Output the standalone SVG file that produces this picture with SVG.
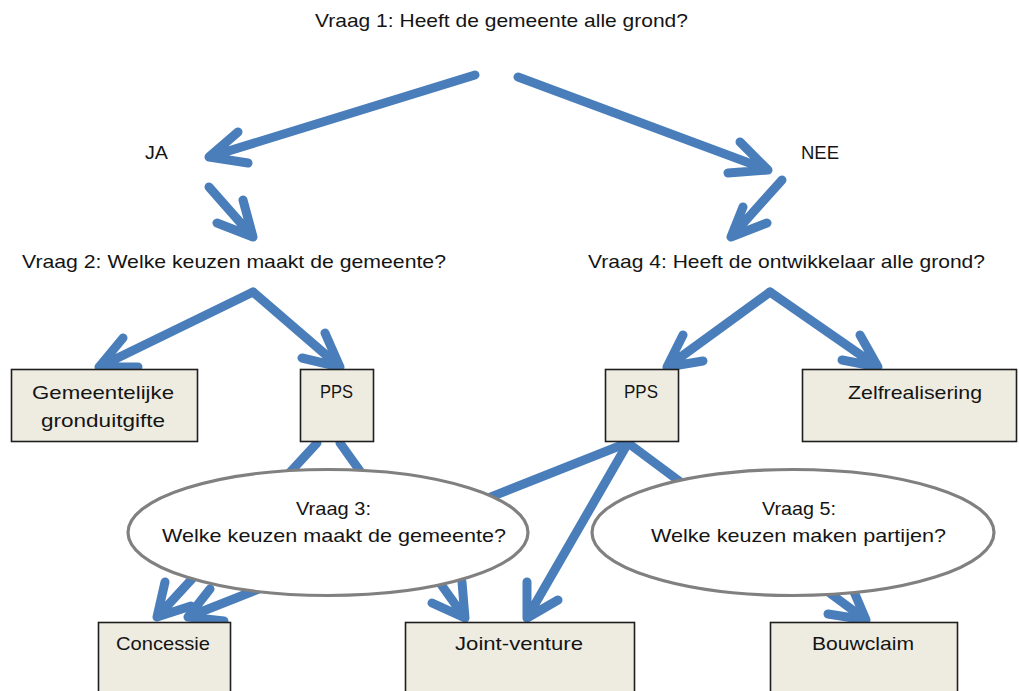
<svg xmlns="http://www.w3.org/2000/svg" width="1019" height="691" viewBox="0 0 1019 691">
  <defs>
    <style>
      .lbl { font-family: "Liberation Sans", Arial, sans-serif; font-size: 19px; fill: #141414; text-anchor: middle; }
      .box { fill: #eeece1; stroke: #1e1e1e; stroke-width: 1.6; }
      .oval { fill: #ffffff; stroke: #808080; stroke-width: 3.2; }
      .arrow { fill: none; stroke: #4a7ebb; stroke-width: 9; stroke-linecap: round; stroke-linejoin: round; }
    </style>
  </defs>
  <rect width="1019" height="691" fill="#ffffff"/>

  <!-- decision labels -->
  <g id="vraag1"><text class="lbl" x="501.5" y="27" textLength="373" lengthAdjust="spacingAndGlyphs">Vraag 1: Heeft de gemeente alle grond?</text></g>
  <g id="ja"><text class="lbl" x="156.5" y="159" textLength="23" lengthAdjust="spacingAndGlyphs">JA</text></g>
  <g id="nee"><text class="lbl" x="820" y="159" textLength="38" lengthAdjust="spacingAndGlyphs">NEE</text></g>
  <g id="vraag2"><text class="lbl" x="234" y="268" textLength="424" lengthAdjust="spacingAndGlyphs">Vraag 2: Welke keuzen maakt de gemeente?</text></g>
  <g id="vraag4"><text class="lbl" x="786.5" y="268" textLength="397" lengthAdjust="spacingAndGlyphs">Vraag 4: Heeft de ontwikkelaar alle grond?</text></g>

  <!-- connectors -->
  <g id="connectors" class="arrow">
    <path d="M475,75 L209,157 M238,132 L209,157 L248,163"/>
    <path d="M518,77 L768,170 M740,142 L768,170 L728,173"/>
    <path d="M209,187 L253,237 M243,200 L253,237 L217,223"/>
    <path d="M782,180 L731,237 M743,207 L731,237 L767,223"/>
    <path d="M253,292 L99,367 M123,338 L99,367 L138,367"/>
    <path d="M253,292 L340,367 M325,333 L340,367 L302,358"/>
    <path d="M770,292 L667,367 M683,335 L667,367 L703,361"/>
    <path d="M770,292 L878,367 M860,335 L878,367 L842,360"/>
    <path d="M317,443 L157,617 M165,582 L157,617 L191,606"/>
    <path d="M627,443 L188,617 M210,589 L188,617 L224,621"/>
    <path d="M340,443 L465,618 M462,582 L465,618 L432,603"/>
    <path d="M628,443 L527,618 M527,582 L527,618 L558,600"/>
    <path d="M628,443 L866,620 M852,587 L866,620 L828,614"/>
  </g>

  <!-- outcome boxes -->
  <g id="gemeentelijke-gronduitgifte">
    <rect class="box" x="11.5" y="369.5" width="186" height="72"/>
    <text class="lbl" x="103" y="399" textLength="142" lengthAdjust="spacingAndGlyphs">Gemeentelijke</text>
    <text class="lbl" x="103" y="427" textLength="124" lengthAdjust="spacingAndGlyphs">gronduitgifte</text>
  </g>
  <g id="pps-links">
    <rect class="box" x="300.5" y="369.5" width="73" height="72"/>
    <text class="lbl" x="336.5" y="398" textLength="33" lengthAdjust="spacingAndGlyphs">PPS</text>
  </g>
  <g id="pps-rechts">
    <rect class="box" x="605.5" y="369.5" width="73" height="72"/>
    <text class="lbl" x="641" y="398" textLength="34" lengthAdjust="spacingAndGlyphs">PPS</text>
  </g>
  <g id="zelfrealisering">
    <rect class="box" x="802.5" y="369.5" width="214" height="72"/>
    <text class="lbl" x="915" y="399" textLength="134" lengthAdjust="spacingAndGlyphs">Zelfrealisering</text>
  </g>

  <!-- question ovals -->
  <g id="vraag3">
    <ellipse class="oval" cx="328" cy="532.5" rx="200" ry="63"/>
    <text class="lbl" x="333.5" y="515" textLength="75" lengthAdjust="spacingAndGlyphs">Vraag 3:</text>
    <text class="lbl" x="334" y="542" textLength="344" lengthAdjust="spacingAndGlyphs">Welke keuzen maakt de gemeente?</text>
  </g>
  <g id="vraag5">
    <ellipse class="oval" cx="793" cy="532.5" rx="201" ry="63"/>
    <text class="lbl" x="799" y="515" textLength="74" lengthAdjust="spacingAndGlyphs">Vraag 5:</text>
    <text class="lbl" x="798.5" y="542" textLength="295" lengthAdjust="spacingAndGlyphs">Welke keuzen maken partijen?</text>
  </g>

  <!-- bottom boxes -->
  <g id="concessie">
    <rect class="box" x="98.5" y="622.5" width="132" height="80"/>
    <text class="lbl" x="163" y="650" textLength="94" lengthAdjust="spacingAndGlyphs">Concessie</text>
  </g>
  <g id="joint-venture">
    <rect class="box" x="405.5" y="622.5" width="229" height="80"/>
    <text class="lbl" x="519" y="650" textLength="128" lengthAdjust="spacingAndGlyphs">Joint-venture</text>
  </g>
  <g id="bouwclaim">
    <rect class="box" x="770.5" y="622.5" width="187" height="80"/>
    <text class="lbl" x="863" y="650" textLength="102" lengthAdjust="spacingAndGlyphs">Bouwclaim</text>
  </g>
</svg>
